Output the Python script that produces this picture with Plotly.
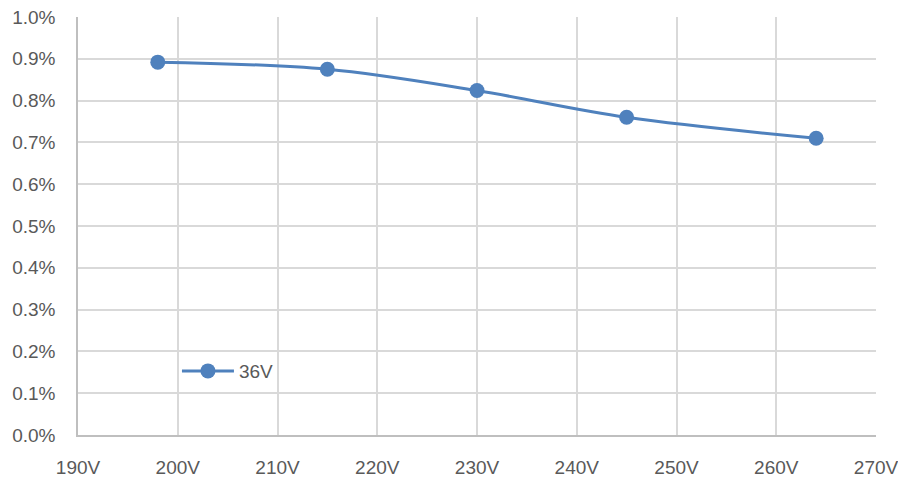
import plotly.graph_objects as go

voltages = [198, 215, 230, 245, 264]
values_36v = [0.00892, 0.00875, 0.00824, 0.00760, 0.00710]
series_name = "36V"

blue = "#4F81BD"
grid = "#D9D9D9"
tick_color = "#595959"
font_family = "Liberation Sans, Arial, sans-serif"

fig = go.Figure()
fig.add_trace(go.Scatter(
    x=voltages, y=values_36v, name=series_name,
    mode="lines+markers",
    line=dict(color=blue, width=3, shape="spline", smoothing=1.0),
    marker=dict(color=blue, size=15),
))

# page body has an 8px default margin, so the figure is sized/offset to compensate
fig.update_layout(
    width=898, height=470,
    margin=dict(l=70, r=30, t=9, b=43, autoexpand=False),
    paper_bgcolor="white", plot_bgcolor="white",
    font=dict(family=font_family, size=19, color=tick_color),
    showlegend=True,
    legend=dict(x=0.124, y=0.153, xanchor="left", yanchor="middle",
                itemwidth=52,
                bgcolor="rgba(0,0,0,0)", font=dict(size=19, color=tick_color)),
)
fig.update_xaxes(
    range=[190, 270], dtick=10, tick0=190, ticksuffix="V",
    showgrid=True, gridcolor=grid, gridwidth=1.5,
    showline=True, linecolor="#BFBFBF", linewidth=1.5,
    ticks="", ticklabelstandoff=14, zeroline=False, automargin=False,
    ticklabeloverflow="allow",
    tickfont=dict(size=19, color=tick_color),
)
fig.update_yaxes(
    range=[0, 0.01], dtick=0.001, tick0=0, tickformat=".1%",
    showgrid=True, gridcolor=grid, gridwidth=1.5,
    showline=True, linecolor="#BFBFBF", linewidth=1.5,
    ticks="", ticklabelstandoff=17, zeroline=False, automargin=False,
    ticklabeloverflow="allow",
    tickfont=dict(size=19, color=tick_color),
)

fig.write_html("out.html")
